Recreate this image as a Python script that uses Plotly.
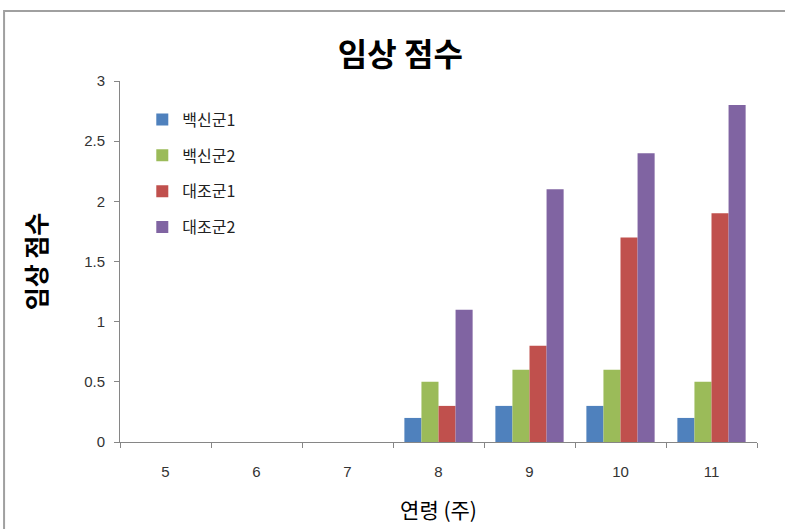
import plotly.graph_objects as go

weeks = ["5", "6", "7", "8", "9", "10", "11"]
series_names = ["백신군1", "백신군2", "대조군1", "대조군2"]
vaccine1 = [0, 0, 0, 0.2, 0.3, 0.3, 0.2]
vaccine2 = [0, 0, 0, 0.5, 0.6, 0.6, 0.5]
control1 = [0, 0, 0, 0.3, 0.8, 1.7, 1.9]
control2 = [0, 0, 0, 1.1, 2.1, 2.4, 2.8]
colors = ["#4F81BD", "#9BBB59", "#C0504D", "#8064A2"]
y_ticks = [0, 0.5, 1, 1.5, 2, 2.5, 3]

KR = "Noto Sans CJK KR"
fig = go.Figure()
for i, (name, vals) in enumerate(zip(series_names, [vaccine1, vaccine2, control1, control2])):
    fig.add_trace(go.Bar(x=weeks, y=vals, name=name, marker_color=colors[i],
                         legendgroup=f"g{i}", marker_line_width=0))

fig.update_layout(
    width=785, height=529,
    margin=dict(l=120, r=28, t=81, b=87),
    paper_bgcolor="white", plot_bgcolor="white",
    barmode="group", bargap=0.25, bargroupgap=0,
    title=dict(text="<b>임상 점수</b>", x=0.51, xanchor="center", y=0.897, yanchor="middle",
               font=dict(family=KR, size=32, color="black")),
    legend=dict(x=0.035, y=0.94, xanchor="left", yanchor="top", tracegroupgap=12,
                itemwidth=30,
                font=dict(family=KR, size=16, color="#222"), bgcolor="rgba(0,0,0,0)"),
    font=dict(family=KR, color="#333"),
    showlegend=True,
)
fig.update_xaxes(type="category", showline=True, linecolor="#868686", linewidth=1,
                 ticks="outside", tickson="boundaries", ticklen=5, tickcolor="#868686",
                 ticklabelstandoff=16, automargin=False,
                 tickfont=dict(family="Liberation Sans, " + KR, size=15, color="#333"),
                 title=dict(text="연령 (주)", font=dict(family=KR, size=21, color="black"), standoff=24),
                 showgrid=False, zeroline=False)
fig.update_yaxes(range=[0, 3], tickvals=y_ticks, ticktext=[("%g" % v) for v in y_ticks],
                 showline=True, linecolor="#868686", linewidth=1,
                 ticks="outside", ticklen=5, tickcolor="#868686",
                 ticklabelstandoff=6, automargin=False,
                 tickfont=dict(family="Liberation Sans, " + KR, size=15, color="#333"),
                 title=dict(text="<b>임상 점수</b>", font=dict(family=KR, size=25, color="black"), standoff=30),
                 showgrid=False, zeroline=False)
fig.add_shape(type="rect", xref="paper", yref="paper", x0=-0.182, x1=1.1, y0=-0.3, y1=1.194,
              line=dict(color="#A0A0A0", width=2), fillcolor="rgba(0,0,0,0)", layer="below")

fig.write_html("out.html")
